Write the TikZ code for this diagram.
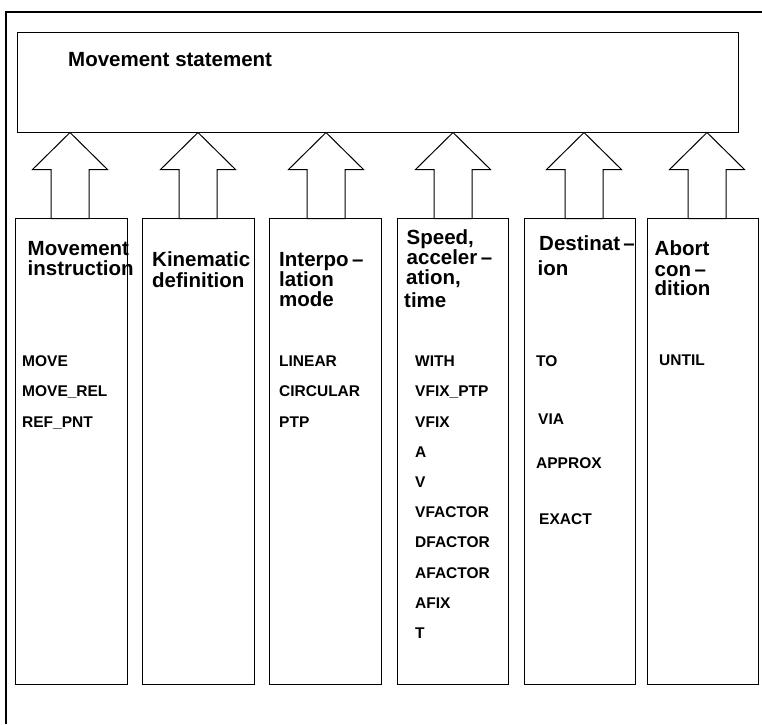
\documentclass[tikz,border=0pt]{standalone}
\usepackage{fontspec}
\setmainfont{Liberation Sans}
\usetikzlibrary{calc}
\begin{document}
\begin{tikzpicture}[x=1pt,y=-1pt,
  box/.style={draw, line width=1pt, inner sep=0pt, minimum width=111.5pt, minimum height=466pt, anchor=north},
  head/.style={anchor=base west, inner sep=0pt, font=\fontsize{20.5}{20.5}\selectfont\bfseries},
  item/.style={anchor=base west, inner sep=0pt, font=\fontsize{15.5}{15.5}\selectfont\bfseries},
  uparrow/.pic={\draw[line width=1pt, line join=miter, fill=white]
     (0,0) -- (37.5,37) -- (19,37) -- (19,86) -- (-19,86) -- (-19,37) -- (-37.5,37) -- cycle;}]
\useasboundingbox (0,0) rectangle (762,724);

% outer frame (top and left edges)
\draw[line width=2pt] (5.5,724) -- (5.5,11.5) -- (762,11.5);

% statement box
\node[draw, line width=1pt, inner sep=0pt, minimum width=721pt, minimum height=100pt] (stmt) at (377.5,82) {};
\node[head] (stmttxt) at (68,66) {Movement statement};

% columns
\node[box] (c1) at (71.5,218) {};
\node[box] (c2) at (198.5,218) {};
\node[box] (c3) at (325.5,218) {};
\node[box] (c4) at (453,218) {};
\node[box] (c5) at (580,218) {};
\node[box] (c6) at (703,218) {};

% block arrows from each column up to the statement box
\pic at ($(stmt.south -| c1.north)+(-1.5,0)$) {uparrow};
\pic at ($(stmt.south -| c2.north)+(-0.5,0)$) {uparrow};
\pic at ($(stmt.south -| c3.north)+(0.5,0)$) {uparrow};
\pic at ($(stmt.south -| c4.north)+(0,0)$) {uparrow};
\pic at ($(stmt.south -| c5.north)+(4,0)$) {uparrow};
\pic at ($(stmt.south -| c6.north)+(4,0)$) {uparrow};

% headings
\node[head] (h1a) at (27.5,255) {Movement};
\node[head] (h1b) at (27.5,275.5) {instruction};
\node[head] (h2a) at (152,266.5) {Kinematic};
\node[head] (h2b) at (152,287) {definition};
\node[head] (h3a) at (279,266.5) {Interpo\,–};
\node[head] (h3b) at (279,286.5) {lation};
\node[head] (h3c) at (279,306) {mode};
\node[head] (h4a) at (406.5,244) {Speed,};
\node[head] (h4b) at (406.5,264) {acceler\,–};
\node[head] (h4c) at (406,284) {ation,};
\node[head] (h4d) at (404,307) {time};
\node[head] (h5a) at (539,250.5) {Destinat\,–};
\node[head] (h5b) at (537.5,275.5) {ion};
\node[head] (h6a) at (654.5,255) {Abort};
\node[head] (h6b) at (654.5,276) {con\,–};
\node[head] (h6c) at (654.5,295.5) {dition};

% keywords
\node[item] (k1a) at (22,366) {MOVE};
\node[item] (k1b) at (22,396) {MOVE\_REL};
\node[item] (k1c) at (22,427) {REF\_PNT};

\node[item] (k3a) at (279,366) {LINEAR};
\node[item] (k3b) at (279,396) {CIRCULAR};
\node[item] (k3c) at (279,427) {PTP};

\node[item] (k4a) at (415,366) {WITH};
\node[item] (k4b) at (415,396) {VFIX\_PTP};
\node[item] (k4c) at (415,427) {VFIX};
\node[item] (k4d) at (415,457) {A};
\node[item] (k4e) at (415,487) {V};
\node[item] (k4f) at (415,517) {VFACTOR};
\node[item] (k4g) at (415,547) {DFACTOR};
\node[item] (k4h) at (415,578) {AFACTOR};
\node[item] (k4i) at (415,608) {AFIX};
\node[item] (k4j) at (415,638) {T};

\node[item] (k5a) at (536,366) {TO};
\node[item] (k5b) at (538,424) {VIA};
\node[item] (k5c) at (536,468) {APPROX};
\node[item] (k5d) at (539,524) {EXACT};

\node[item] (k6a) at (659,365) {UNTIL};
\end{tikzpicture}
\end{document}
